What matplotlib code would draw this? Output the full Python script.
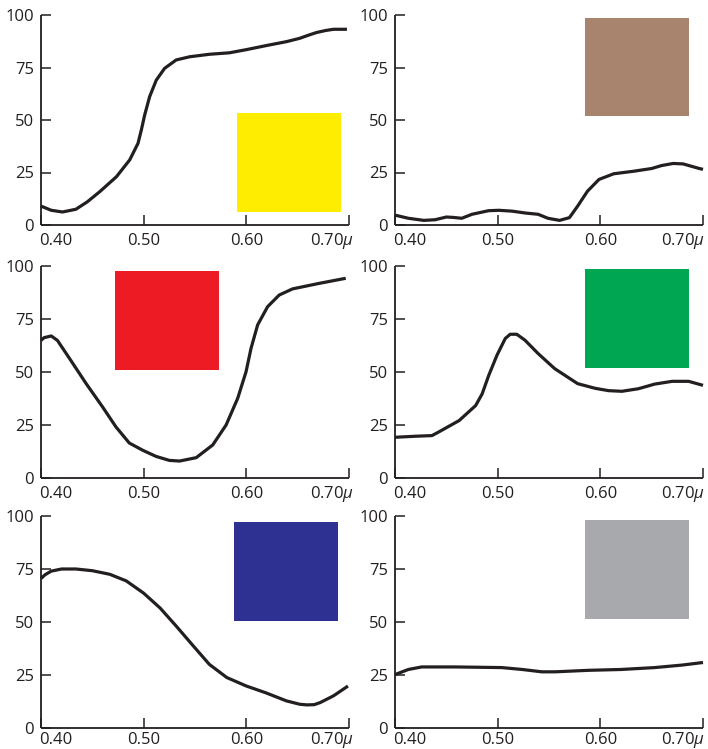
import matplotlib
matplotlib.use("Agg")
import matplotlib.pyplot as plt
from matplotlib.patches import Rectangle

plt.rcParams['font.family'] = ['Open Sans', 'DejaVu Sans']
plt.rcParams['mathtext.fontset'] = 'custom'
plt.rcParams['mathtext.rm'] = 'Open Sans'
plt.rcParams['mathtext.it'] = 'Open Sans:italic'

# ---------------- data ----------------
yellow_x = [0.400, 0.410, 0.421, 0.434, 0.445, 0.4573, 0.4735, 0.4864, 0.4945, 0.4977, 0.501,
            0.5058, 0.5123, 0.5204, 0.5317, 0.5447, 0.5641, 0.5835, 0.600, 0.620, 0.639, 0.652,
            0.660, 0.668, 0.677, 0.685, 0.698]
yellow_y = [9.0, 7.0, 6.2, 7.5, 11.0, 15.9, 23.0, 31.0, 38.9, 45.2, 52.4,
            61.1, 69.0, 74.6, 78.6, 80.1, 81.3, 82.0, 83.5, 85.5, 87.3, 88.9,
            90.3, 91.6, 92.6, 93.2, 93.2]

brown_x = [0.400, 0.413, 0.428, 0.439, 0.450, 0.457, 0.465, 0.475, 0.491, 0.501, 0.514, 0.527,
           0.5394, 0.549, 0.5603, 0.5699, 0.5779, 0.5875, 0.5987, 0.6131, 0.6324, 0.650, 0.6596,
           0.6709, 0.6805, 0.6964, 0.700]
brown_y = [4.7, 3.2, 2.2, 2.5, 3.8, 3.6, 3.2, 5.1, 6.8, 7.0, 6.6, 5.7,
           5.1, 3.2, 2.2, 3.5, 9.0, 16.1, 21.7, 24.4, 25.6, 26.9, 28.3,
           29.3, 29.1, 26.9, 26.5]

red_x = [0.400, 0.403, 0.410, 0.416, 0.429, 0.444, 0.460, 0.473, 0.486, 0.499, 0.512, 0.525,
         0.535, 0.5512, 0.5673, 0.5803, 0.5916, 0.5997, 0.6046, 0.611, 0.6207, 0.632, 0.645,
         0.6709, 0.6968]
red_y = [64.9, 66.2, 67.0, 64.9, 55.5, 44.5, 33.5, 24.1, 16.5, 13.1, 10.2, 8.3,
         8.0, 9.6, 15.6, 25.0, 37.6, 50.1, 61.2, 72.2, 80.8, 86.3, 89.2,
         91.8, 94.2]

green_x = [0.400, 0.420, 0.436, 0.4433, 0.4625, 0.4786, 0.4849, 0.4913, 0.4993, 0.5074, 0.5122,
           0.5186, 0.5266, 0.5394, 0.5555, 0.5779, 0.595, 0.608, 0.621, 0.637, 0.653, 0.670,
           0.686, 0.700]
green_y = [19.2, 19.7, 20.0, 21.9, 27.1, 34.2, 39.7, 48.4, 57.9, 65.8, 67.8,
           67.8, 65.0, 58.7, 51.6, 44.5, 42.3, 41.2, 40.9, 42.1, 44.3, 45.6,
           45.6, 43.7]

blue_x = [0.400, 0.404, 0.410, 0.420, 0.434, 0.450, 0.467, 0.483, 0.500, 0.516, 0.532, 0.548,
          0.564, 0.581, 0.600, 0.619, 0.639, 0.652, 0.659, 0.666, 0.672, 0.685, 0.699]
blue_y = [70.5, 72.3, 74.0, 75.0, 75.0, 74.2, 72.5, 69.4, 63.6, 56.6, 47.9, 38.9,
          30.0, 23.8, 19.8, 16.6, 12.8, 11.2, 10.9, 11.0, 12.0, 15.2, 19.8]

gray_x = [0.400, 0.413, 0.426, 0.459, 0.504, 0.524, 0.543, 0.556, 0.588, 0.620, 0.653, 0.680, 0.700]
gray_y = [25.2, 27.6, 28.8, 28.8, 28.5, 27.6, 26.5, 26.5, 27.2, 27.6, 28.5, 29.7, 30.9]

x_ticks = [0.40, 0.50, 0.60, 0.70]
x_tick_labels = ["0.40", "0.50", "0.60", "0.70$\\mathit{\\mu}$"]
y_ticks = [0, 25, 50, 75, 100]
y_tick_labels = ["0", "25", "50", "75", "100"]

swatch_colors = ["#FFED00", "#A8846E", "#ED1C24", "#00A651", "#2E3192", "#A7A9AC"]

# --------------- layout ---------------
W, H = 708, 749
fig = plt.figure(figsize=(W / 100, H / 100), dpi=100)

col_left = [41, 395]
col_width = [308, 308]
row_top = [15, 266, 516]
row_height = [210, 212, 212]
last_label_shift = [4.0, 1.2]   # points, per column
label_drop = [14.2, 14.2, 11.6]  # points, per row

panels = [
    (yellow_x, yellow_y, 0, 0, (0.591, 6.3, 0.101, 47.2)),
    (brown_x, brown_y, 0, 1, (0.585, 51.8, 0.101, 46.9)),
    (red_x, red_y, 1, 0, (0.472, 51.0, 0.101, 46.6)),
    (green_x, green_y, 1, 1, (0.585, 52.0, 0.101, 46.6)),
    (blue_x, blue_y, 2, 0, (0.588, 50.6, 0.101, 46.6)),
    (gray_x, gray_y, 2, 1, (0.585, 51.6, 0.101, 46.5)),
]

ink = "#231F20"

for i, (xs, ys, r, c, sq) in enumerate(panels):
    left = col_left[c] / W
    width = col_width[c] / W
    bottom = (H - row_top[r] - row_height[r]) / H
    height = row_height[r] / H
    ax = fig.add_axes([left, bottom, width, height])
    ax.set_xlim(0.40, 0.70)
    ax.set_ylim(0, 100)
    for s in ("top", "right"):
        ax.spines[s].set_visible(False)
    for s in ("left", "bottom"):
        ax.spines[s].set_linewidth(1.3)
        ax.spines[s].set_color(ink)
        ax.spines[s].set_capstyle("butt")

    ax.add_patch(Rectangle((sq[0], sq[1]), sq[2], sq[3], facecolor=swatch_colors[i],
                           edgecolor="none", zorder=1))
    ax.plot(xs, ys, color=ink, lw=2.3, solid_joinstyle="round", solid_capstyle="butt",
            zorder=3, clip_on=False)

    ax.set_yticks(y_ticks)
    ax.set_yticklabels(y_tick_labels)
    ax.tick_params(axis="y", direction="in", length=7.5, width=1.1, color=ink,
                   labelsize=12, labelcolor=ink, pad=5)
    ax.set_xticks(x_ticks)
    ax.set_xticklabels([])
    ax.tick_params(axis="x", direction="in", length=7.5, width=1.1, color=ink)

    for xv, lab in zip(x_ticks, x_tick_labels):
        if xv == x_ticks[0]:
            ha, dx = "left", -1
        elif xv == x_ticks[-1]:
            ha, dx = "right", last_label_shift[c]
        else:
            ha, dx = "center", 0
        ax.annotate(lab, xy=(xv, 0), xycoords=("data", "axes fraction"),
                    xytext=(dx, -label_drop[r]), textcoords="offset points",
                    ha=ha, va="baseline", fontsize=12, color=ink, annotation_clip=False)

fig.savefig("out.png", dpi=100)
